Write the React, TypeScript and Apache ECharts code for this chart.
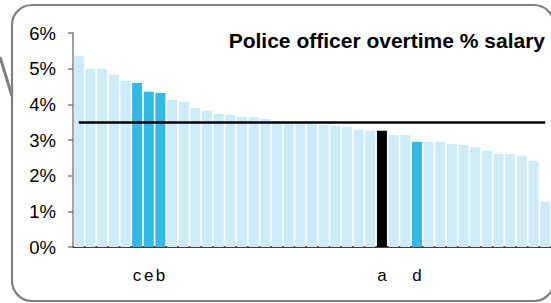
import React, { useEffect, useRef } from "react";
import * as echarts from "echarts";

const overtimePct = [
  5.36, 5.0, 5.0, 4.82, 4.66, 4.6, 4.35, 4.32, 4.13, 4.07, 3.9, 3.82, 3.73, 3.7,
  3.65, 3.64, 3.59, 3.53, 3.5, 3.49, 3.45, 3.43, 3.4, 3.37, 3.29, 3.26, 3.26,
  3.14, 3.14, 2.95, 2.95, 2.95, 2.89, 2.86, 2.8, 2.7, 2.61, 2.61, 2.56, 2.42, 1.27,
];
const barLabels = [
  "", "", "", "", "", "c", "e", "b", "", "", "", "", "", "", "", "", "", "", "",
  "", "", "", "", "", "", "", "a", "", "", "d", "", "", "", "", "", "", "", "",
  "", "", "",
];
const averagePct = 3.5;
const yTicks = [0, 1, 2, 3, 4, 5, 6];
const titleText = "Police officer overtime % salary";

const LIGHT = "#cdebf8";
const MID = "#33b9e9";
const DARK = "#000000";

export default function App() {
  const ref = useRef<HTMLDivElement>(null);
  useEffect(() => {
    if (!ref.current) return;
    const chart = echarts.init(ref.current, null, { renderer: "svg" });
    const ranks = overtimePct.map((_, i) => String(i + 1));
    const colorFor = (lab: string) =>
      lab === "a" ? DARK : lab ? MID : LIGHT;
    chart.setOption({
      animation: false,
      title: {
        text: titleText,
        right: 6,
        top: 30,
        padding: 0,
        textStyle: {
          fontFamily: "Liberation Sans, Arial, sans-serif",
          fontWeight: "bold",
          fontSize: 21,
          color: "#000",
        },
      },
      grid: { left: 73, right: 0, top: 33, bottom: 56 },
      xAxis: {
        type: "category",
        data: ranks,
        axisTick: { show: false },
        axisLine: { lineStyle: { color: "#000", width: 1.5 } },
        axisLabel: {
          interval: 0,
          margin: 20,
          fontFamily: "Liberation Sans, Arial, sans-serif",
          fontSize: 17,
          color: "#000",
          formatter: (_v: string, i: number) => barLabels[i],
        },
      },
      yAxis: {
        type: "value",
        min: yTicks[0],
        max: yTicks[yTicks.length - 1],
        interval: 1,
        splitLine: { show: false },
        axisLine: { show: true, lineStyle: { color: "#808080", width: 1.5 } },
        axisTick: { show: true, length: 5, lineStyle: { color: "#808080", width: 1.5 } },
        axisLabel: {
          margin: 17,
          fontFamily: "Liberation Sans, Arial, sans-serif",
          fontSize: 18.5,
          color: "#000",
          formatter: "{value}%",
        },
      },
      graphic: [
        {
          type: "rect",
          z: -10,
          shape: { x: 12, y: 5, width: 542, height: 296, r: 20 },
          style: { fill: "none", stroke: "#808080", lineWidth: 2.2 },
        },
        {
          type: "line",
          z: -10,
          shape: { x1: 0, y1: 57, x2: 12, y2: 96 },
          style: { stroke: "#808080", lineWidth: 3 },
        },
      ],
      series: [
        {
          type: "bar",
          barWidth: 10,
          data: overtimePct.map((v, i) => ({
            value: v,
            itemStyle: { color: colorFor(barLabels[i]) },
          })),
          markLine: {
            silent: true,
            symbol: "none",
            label: { show: false },
            lineStyle: { color: "#000", width: 2.5, type: "solid" },
            data: [
              [
                { coord: [0, averagePct] },
                { coord: [overtimePct.length - 1, averagePct] },
              ],
            ],
          },
        },
      ],
    });
    return () => chart.dispose();
  }, []);
  return (
    <div
      ref={ref}
      style={{ position: "fixed", left: 0, top: 0, width: 551, height: 303, background: "#fff" }}
    />
  );
}
